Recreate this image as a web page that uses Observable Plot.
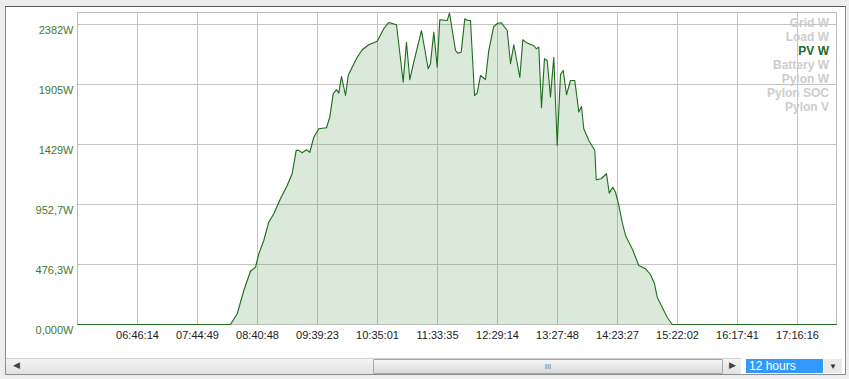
<!DOCTYPE html>
<html><head><meta charset="utf-8">
<script src="https://cdn.jsdelivr.net/npm/d3@7"></script>
<script src="https://cdn.jsdelivr.net/npm/@observablehq/plot@0.6"></script>
<style>
html,body{margin:0;padding:0;background:#ededed;}
#wrap{position:relative;width:849px;height:379px;overflow:hidden;background:#ededed;font-family:Arial,"Liberation Sans",sans-serif;}
.panel{position:absolute;left:5px;top:6px;width:839px;height:367px;background:#fff;border:1px solid #8c8c8c;border-top:1px solid #5a5a5a;}
#chart{position:absolute;left:0;top:0;}
.legend{position:absolute;right:20px;top:16px;text-align:right;font:bold 12px Arial,"Liberation Sans",sans-serif;line-height:14px;color:#cdcdcd;}
.legend .on{color:#1d6a1d;}
.track{position:absolute;left:6px;top:358px;width:735px;height:15px;background:linear-gradient(#f3f3f3,#e2e2e2);border-top:1px solid #d0d0d0;}
.thumb{position:absolute;left:367px;top:0;width:348px;height:13px;background:linear-gradient(#f6f6f6,#d9d9d9);border:1px solid #a8a8a8;border-radius:1px;text-align:center;font:8px Arial;color:#777;line-height:13px;}
.arrowL{position:absolute;left:7px;top:1px;font:9px Arial;color:#444;}
.arrowR{position:absolute;left:723px;top:1px;font:9px Arial;color:#444;}
.sel{position:absolute;left:746px;top:359px;width:74px;height:14px;background:#3399ff;color:#fff;font:12px Arial,"Liberation Sans",sans-serif;line-height:14px;padding-left:3px;}
.drop{position:absolute;left:824px;top:359px;width:18px;height:14px;background:#e9e9e9;font:8px Arial;color:#333;text-align:center;line-height:16px;}
</style>
</head><body>
<div id="wrap">
  <div class="panel"></div>
  <div id="chart"></div>
  <div class="legend" id="legend"></div>
  <div class="track"><span class="arrowL">&#9664;</span><div class="thumb">III</div><span class="arrowR">&#9654;</span></div>
  <div class="sel">12 hours</div>
  <div class="drop">&#9660;</div>
</div>
<script>
// X axis: tick labels at evenly spaced sample positions (index units)
const timeLabels = ["06:46:14","07:44:49","08:40:48","09:39:23","10:35:01","11:33:35","12:29:14","13:27:48","14:23:27","15:22:02","16:17:41","17:16:16"];
// Y axis ticks
const yTickValues = [0, 476.34, 952.68, 1429.02, 1905.36, 2381.7];
const yTickLabels = ["0,000W","476,3W","952,7W","1429W","1905W","2382W"];
// Legend series
const legendNames = ["Grid W","Load W","PV W","Battery W","Pylon W","Pylon SOC","Pylon V"];
const activeSeries = "PV W";
// PV W series: position along the time axis (tick units) and watts
const pvPos = [-1.0,1.55,1.662,1.772,1.883,1.967,2.022,2.105,2.188,2.272,2.383,2.495,2.578,2.645,2.688,2.745,2.817,2.872,2.938,3.022,3.15,3.205,3.262,3.317,3.355,3.4,3.467,3.512,3.578,3.662,3.745,3.855,3.995,4.105,4.188,4.317,4.428,4.483,4.538,4.605,4.733,4.845,4.883,4.938,4.995,5.038,5.162,5.2,5.3,5.338,5.395,5.455,5.505,5.55,5.617,5.662,5.717,5.8,5.855,5.938,6.005,6.062,6.162,6.217,6.272,6.372,6.422,6.495,6.605,6.65,6.688,6.733,6.783,6.828,6.883,6.938,6.995,7.05,7.095,7.15,7.217,7.288,7.355,7.4,7.438,7.522,7.622,7.645,7.728,7.817,7.862,7.922,7.967,8.022,8.078,8.133,8.245,8.355,8.467,8.55,8.617,8.662,8.745,8.828,8.912,11.65];
const pvW = [0,0,85,270,423,455,561,667,812,879,998,1104,1197,1382,1382,1363,1387,1366,1487,1554,1562,1646,1832,1864,1837,1969,1818,1977,2043,2122,2181,2221,2249,2348,2398,2380,1924,2241,1943,2083,2334,2030,2070,2321,2043,2419,2414,2472,2176,2154,2162,2427,2414,2414,1818,1837,1977,1945,2176,2366,2392,2396,2334,2070,2221,1961,2261,2234,2213,2189,2202,1721,2110,2096,1805,2122,1421,1985,2017,1824,1937,1937,1686,1731,1554,1461,1382,1149,1157,1197,1043,1090,1050,945,812,707,601,468,442,397,323,217,137,58,0,0];

const data = pvPos.map((p, i) => ({pos: p, w: pvW[i]}));
const xTicks = timeLabels.map((_, i) => i);

const chart = Plot.plot({
  width: 849,
  height: 379,
  marginLeft: 77,
  marginRight: 13,
  marginTop: 12,
  marginBottom: 55,
  style: {background: "transparent", fontFamily: "Arial, 'Liberation Sans', sans-serif", fontSize: "11px", overflow: "visible"},
  x: {domain: [-1, 11.65], axis: null, label: null},
  y: {domain: [0, 2381.7 * 312 / 300], axis: null, label: null},
  marks: [
    Plot.gridX(xTicks, {stroke: "#c4c4c4", strokeOpacity: 1}),
    Plot.gridY(yTickValues, {stroke: "#c4c4c4", strokeOpacity: 1}),
    Plot.frame({stroke: "#bdbdbd"}),
    Plot.areaY(data, {x: "pos", y: "w", fill: "#3c8c3c", fillOpacity: 0.19}),
    Plot.lineY(data, {x: "pos", y: "w", stroke: "#1f6b1f", strokeWidth: 1.1}),
    Plot.axisX({ticks: xTicks, tickFormat: i => timeLabels[i], tickSize: 0, tickPadding: 7, fill: "#222", label: null}),
    Plot.axisY({ticks: yTickValues, tickFormat: d => yTickLabels[yTickValues.indexOf(d)], tickSize: 0, tickPadding: 4, dy: 6, fill: "#3f7a2e", label: null})
  ]
});
document.getElementById("chart").appendChild(chart);

const leg = document.getElementById("legend");
legendNames.forEach(n => {
  const d = document.createElement("div");
  d.textContent = n;
  if (n === activeSeries) d.className = "on";
  leg.appendChild(d);
});
</script>
</body></html>
